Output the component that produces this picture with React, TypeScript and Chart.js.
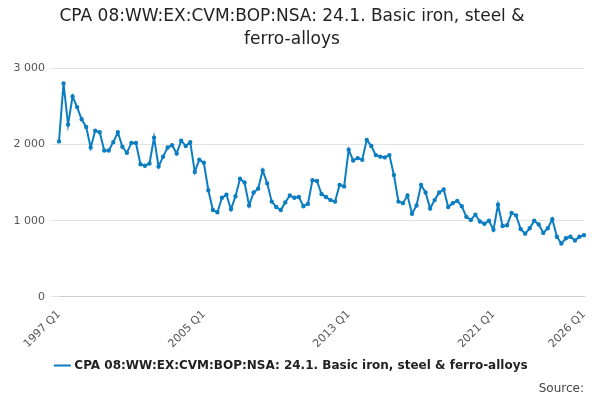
import { useEffect, useRef } from "react"
import { Chart, registerables } from "chart.js"

Chart.register(...registerables)
Chart.defaults.font.family = "DejaVu Sans"

const years = Array.from({ length: 30 }, (_, i) => 1997 + i)
const labels: string[] = []
years.forEach((y) => {
  for (let q = 1; q <= 4; q++) if (y < 2026 || q === 1) labels.push(`${y} Q${q}`)
})

const shownLabels = ["1997 Q1", "2005 Q1", "2013 Q1", "2021 Q1", "2026 Q1"]

const values = [
  2040, 2800, 2260, 2630, 2490, 2330, 2230, 1960, 2180, 2160, 1920, 1920,
  2030, 2160, 1970, 1890, 2020, 2020, 1740, 1720, 1750, 2090, 1710, 1840,
  1960, 1990, 1880, 2050, 1980, 2030, 1640, 1800, 1760, 1400, 1140, 1110,
  1300, 1340, 1150, 1320, 1550, 1500, 1200, 1370, 1420, 1660, 1490, 1250,
  1180, 1140, 1240, 1330, 1300, 1310, 1190, 1220, 1530, 1520, 1350, 1310,
  1270, 1250, 1470, 1450, 1930, 1790, 1820, 1800, 2060, 1980, 1860, 1840,
  1830, 1860, 1600, 1250, 1230, 1330, 1090, 1200, 1470, 1370, 1160, 1270,
  1370, 1410, 1180, 1230, 1260, 1190, 1050, 1010, 1080, 990, 960, 1000,
  880, 1210, 930, 940, 1100, 1070, 890, 830, 900, 1000, 950, 840,
  900, 1020, 790, 700, 770, 790, 740, 790, 810,
]

const seriesName = "CPA 08:WW:EX:CVM:BOP:NSA: 24.1. Basic iron, steel & ferro-alloys"

export default function App() {
  const ref = useRef<HTMLCanvasElement>(null)

  useEffect(() => {
    if (!ref.current) return
    const chart = new Chart(ref.current, {
      type: "line",
      data: {
        labels,
        datasets: [
          {
            label: seriesName,
            data: values,
            borderColor: "#0b7dc1",
            backgroundColor: "#0b7dc1",
            borderWidth: 2,
            pointRadius: 1.2,
            tension: 0,
          },
        ],
      },
      options: {
        animation: false,
        responsive: true,
        maintainAspectRatio: false,
        layout: { padding: { top: 6, right: 16, left: 0, bottom: 4 } },
        plugins: {
          title: {
            display: true,
            text: ["CPA 08:WW:EX:CVM:BOP:NSA: 24.1. Basic iron, steel &", "ferro-alloys"],
            font: { size: 17, weight: "normal", lineHeight: 1.3 },
            color: "#222",
            padding: { top: 0, bottom: 18 },
          },
          subtitle: {
            display: true,
            text: "Source:",
            position: "bottom",
            align: "end",
            font: { size: 12 },
            color: "#444",
            padding: 0,
          },
          legend: {
            position: "bottom",
            labels: {
              usePointStyle: true,
              pointStyle: "line",
              boxWidth: 24,
              color: "#222",
              padding: 6,
              font: { size: 12, weight: "bold" },
            },
          },
        },
        scales: {
          x: {
            grid: { display: false },
            border: { color: "#ccc" },
            ticks: {
              autoSkip: false,
              maxRotation: 45,
              minRotation: 45,
              color: "#555",
              font: { size: 11 },
              callback: (_v, i) => (shownLabels.includes(labels[i]) ? labels[i] : null),
            },
          },
          y: {
            min: 0,
            max: 3000,
            border: { display: false },
            grid: { color: "#e3e3e3" },
            afterFit: (s) => {
              s.width = 59
            },
            ticks: {
              stepSize: 1000,
              color: "#555",
              padding: 6,
              font: { size: 11 },
              callback: (v) => String(v).replace(/\B(?=(\d{3})+(?!\d))/g, " "),
            },
          },
        },
      },
    })
    return () => chart.destroy()
  }, [])

  return (
    <div style={{ width: 600, height: 400, margin: -8 }}>
      <canvas ref={ref} />
    </div>
  )
}
